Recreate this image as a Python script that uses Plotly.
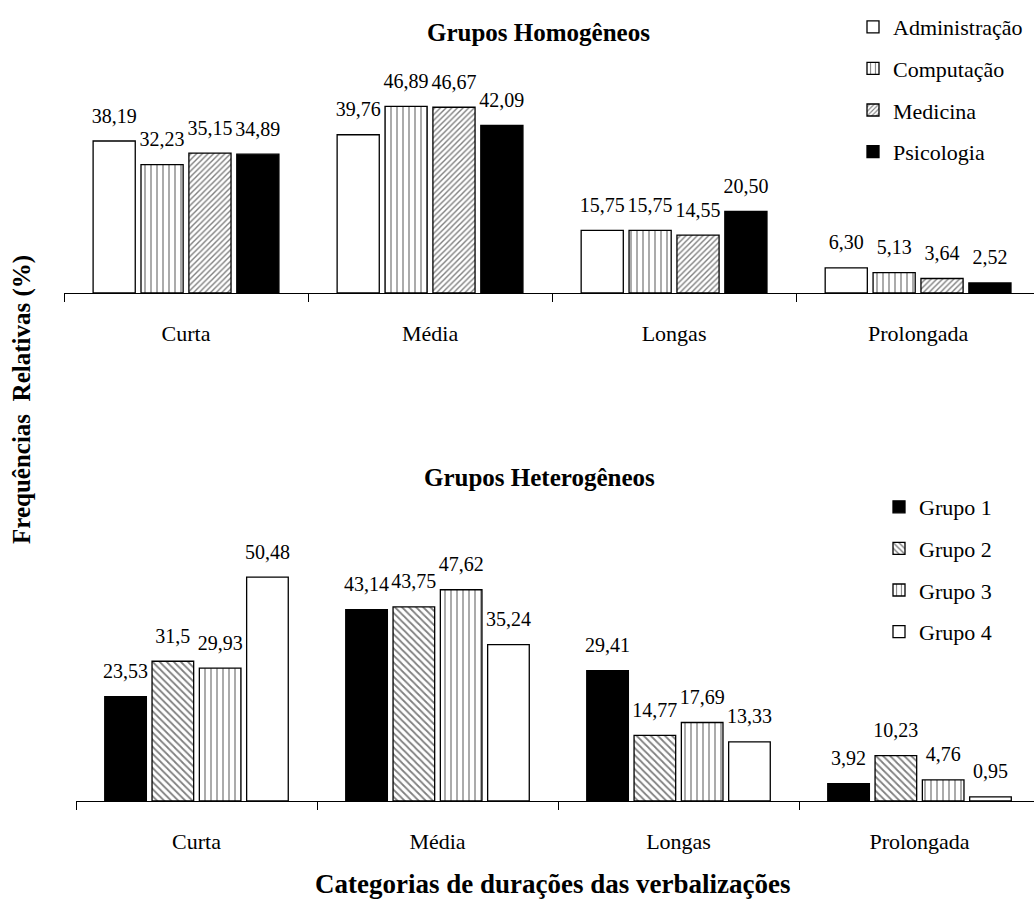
import plotly.graph_objects as go

# Duração das verbalizações por grupo (frequências relativas, %)
categorias = ["Curta", "Média", "Longas", "Prolongada"]

homog_series = ["Administração", "Computação", "Medicina", "Psicologia"]
homog_valores = {
    "Administração": [38.19, 39.76, 15.75, 6.30],
    "Computação": [32.23, 46.89, 15.75, 5.13],
    "Medicina": [35.15, 46.67, 14.55, 3.64],
    "Psicologia": [34.89, 42.09, 20.50, 2.52],
}

heterog_series = ["Grupo 1", "Grupo 2", "Grupo 3", "Grupo 4"]
heterog_valores = {
    "Grupo 1": [23.53, 43.14, 29.41, 3.92],
    "Grupo 2": [31.5, 43.75, 14.77, 10.23],
    "Grupo 3": [29.93, 47.62, 17.69, 4.76],
    "Grupo 4": [50.48, 35.24, 13.33, 0.95],
}

FONT = "Liberation Serif, Times New Roman, serif"

# preenchimentos (cor de fundo, padrão de hachura)
estilos = {
    "Administração": ("white", None),
    "Computação": ("white", dict(shape="|", size=6, solidity=0.22, fgcolor="black")),
    "Medicina": ("white", dict(shape="/", size=4, solidity=0.35, fgcolor="black")),
    "Psicologia": ("black", None),
    "Grupo 1": ("black", None),
    "Grupo 2": ("white", dict(shape="\\", size=5, solidity=0.35, fgcolor="black")),
    "Grupo 3": ("white", dict(shape="|", size=6, solidity=0.22, fgcolor="black")),
    "Grupo 4": ("white", None),
}


def rotulo_homog(v):
    return f"{v:.2f}".replace(".", ",")


def rotulo_heterog(v):
    return str(v).replace(".", ",")


fig = go.Figure()


def adicionar(series, valores, fmt, xa, ya, legenda):
    for nome in series:
        cor, padrao = estilos[nome]
        marker = dict(color=cor, line=dict(color="black", width=1.3))
        if padrao:
            marker["pattern"] = padrao
        fig.add_trace(go.Bar(
            x=categorias, y=valores[nome], name=nome, marker=marker,
            xaxis=xa, yaxis=ya, offsetgroup=nome, legend=legenda,
            legendgroup=nome, hoverinfo="skip",
        ))
        # rótulos de valor acima de cada barra
        fig.add_trace(go.Scatter(
            x=categorias, y=valores[nome], mode="markers+text",
            text=[fmt(v) for v in valores[nome]], textposition="top center",
            textfont=dict(family=FONT, size=20, color="black"),
            marker=dict(size=20, opacity=0), cliponaxis=False,
            xaxis=xa, yaxis=ya, offsetgroup=nome, showlegend=False,
            hoverinfo="skip",
        ))


adicionar(homog_series, homog_valores, rotulo_homog, "x", "y", "legend")
adicionar(heterog_series, heterog_valores, rotulo_heterog, "x2", "y2", "legend2")

eixo_x = dict(
    type="category", range=[-0.5, 3.475], showline=True, linecolor="black",
    linewidth=1, ticks="outside", tickson="boundaries", ticklen=8,
    tickcolor="black", showgrid=False, zeroline=False,
    tickfont=dict(family=FONT, size=22, color="black"),
    ticklabelstandoff=21,
)
eixo_y = dict(visible=False, showgrid=False, zeroline=False)

legenda = dict(
    font=dict(family=FONT, size=22, color="black"), bgcolor="rgba(0,0,0,0)",
    xanchor="left", yanchor="top", traceorder="grouped", tracegroupgap=10,
    itemclick=False, itemdoubleclick=False,
)


def titulo(texto, x, y, tamanho, angulo=0):
    return dict(text=texto, x=x / 1034, y=1 - y / 909, xref="paper", yref="paper",
                xanchor="center", yanchor="middle", showarrow=False,
                textangle=angulo, font=dict(family=FONT, size=tamanho, color="black"))


fig.update_layout(
    width=1034, height=909, margin=dict(l=0, r=0, t=0, b=0),
    paper_bgcolor="white", plot_bgcolor="white",
    barmode="group", bargap=0.215, bargroupgap=0.12,
    scattermode="group", scattergap=0.215,
    font=dict(family=FONT, color="black"),
    xaxis=dict(eixo_x, domain=[64 / 1034, 1], anchor="y"),
    yaxis=dict(eixo_y, range=[0, 50], domain=[1 - 293 / 909, 1 - 94 / 909], anchor="x"),
    xaxis2=dict(eixo_x, domain=[76 / 1034, 1], anchor="y2"),
    yaxis2=dict(eixo_y, range=[0, 55], domain=[1 - 801 / 909, 1 - 557 / 909], anchor="x2"),
    legend=dict(legenda, x=853 / 1034, y=1 - 6 / 909),
    legend2=dict(legenda, x=879 / 1034, y=1 - 486 / 909),
    showlegend=True,
    annotations=[
        titulo("<b>Grupos Homogêneos</b>", 538, 32, 25),
        titulo("<b>Grupos Heterogêneos</b>", 539, 477, 25),
        titulo("<b>Categorias de durações das verbalizações</b>", 552, 884, 27),
        titulo("<b>Frequências  Relativas (%)</b>", 22, 400, 25, -90),
    ],
)

fig.write_html("out.html")
